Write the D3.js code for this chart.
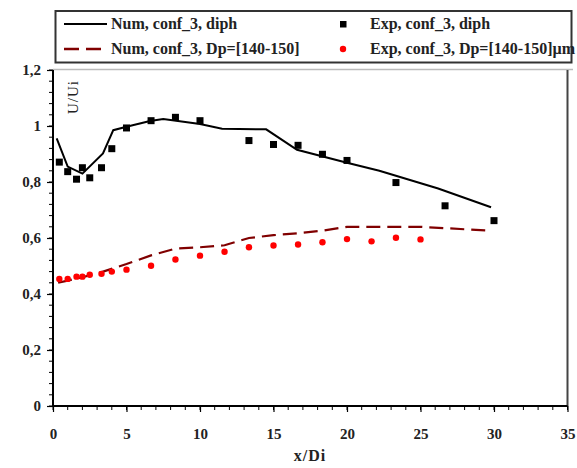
<!DOCTYPE html>
<html>
<head>
<meta charset="utf-8">
<script src="https://cdn.jsdelivr.net/npm/d3@7"></script>
<style>
  body { margin: 0; background: #fff; }
  text { font-family: "Liberation Serif", "DejaVu Serif", serif; }
</style>
</head>
<body>
<div class="chart"></div>
<script>
// Data
var expX = [0.43, 1, 1.6, 2, 2.5, 3.3, 4, 5, 6.67, 8.33, 10, 13.33, 15, 16.67, 18.33, 20, 23.33, 26.67, 30];
var expDiph = [0.871, 0.837, 0.81, 0.851, 0.815, 0.851, 0.919, 0.993, 1.019, 1.031, 1.019, 0.948, 0.934, 0.931, 0.899, 0.877, 0.798, 0.715, 0.662];

var expDpX = [0.43, 1, 1.6, 2, 2.5, 3.3, 4, 5, 6.67, 8.33, 10, 11.67, 13.33, 15, 16.67, 18.33, 20, 21.67, 23.33, 25];
var expDp = [0.454, 0.454, 0.462, 0.462, 0.469, 0.472, 0.48, 0.487, 0.501, 0.523, 0.537, 0.551, 0.567, 0.573, 0.577, 0.585, 0.596, 0.588, 0.601, 0.595];

var numDiphX = [0.25, 1, 2, 3.4, 4.1, 5, 6.6, 7.5, 10, 11.5, 14.5, 16.6, 20, 22.2, 26.2, 29.8];
var numDiph = [0.956, 0.855, 0.83, 0.902, 0.985, 0.997, 1.018, 1.025, 1.007, 0.99, 0.988, 0.915, 0.869, 0.84, 0.777, 0.71];

var numDpX = [0.35, 1, 2, 3.3, 5, 6.67, 8.33, 10, 11.67, 13.33, 15, 16.67, 18.33, 20, 25, 29.8];
var numDp = [0.44, 0.448, 0.46, 0.478, 0.507, 0.538, 0.562, 0.567, 0.574, 0.6, 0.61, 0.617, 0.626, 0.64, 0.64, 0.626];

var xTicks = [0, 5, 10, 15, 20, 25, 30, 35];
var yTicks = [0, 0.2, 0.4, 0.6, 0.8, 1, 1.2];

var legendItems = [
  { label: "Num, conf_3, diph", kind: "line" },
  { label: "Exp, conf_3, diph", kind: "square" },
  { label: "Num, conf_3, Dp=[140-150]", kind: "dash" },
  { label: "Exp, conf_3, Dp=[140-150]\u00b5m", kind: "dot" }
];

var width = 577, height = 468;
var svg = d3.select(".chart").append("svg")
    .attr("width", width)
    .attr("height", height);

// Scales
var x = d3.scaleLinear().domain([0, 35]).range([53, 567.5]);
var y = d3.scaleLinear().domain([0, 1.2]).range([406, 70]);

// frame: top light line, right darker line
svg.append("line")
    .attr("x1", x(0)).attr("x2", 573)
    .attr("y1", y(1.2) - 0.5).attr("y2", y(1.2) - 0.5)
    .attr("stroke", "#bbb").attr("stroke-width", 1.5);
svg.append("line")
    .attr("x1", x(35)).attr("x2", x(35))
    .attr("y1", y(1.2)).attr("y2", y(0))
    .attr("stroke", "#444").attr("stroke-width", 2);

// minor ticks
svg.append("g").selectAll("line")
    .data(d3.range(0, 35.01, 1))
    .enter().append("line")
    .attr("x1", d => x(d)).attr("x2", d => x(d))
    .attr("y1", y(0)).attr("y2", y(0) + 4)
    .attr("stroke", "#000").attr("stroke-width", 1);
svg.append("g").selectAll("line")
    .data(d3.range(0, 1.201, 0.04))
    .enter().append("line")
    .attr("x1", x(0) - 4).attr("x2", x(0))
    .attr("y1", d => y(d)).attr("y2", d => y(d))
    .attr("stroke", "#000").attr("stroke-width", 1);

// Axes
var xAxis = d3.axisBottom(x).tickValues(xTicks).tickSize(6).tickPadding(16)
    .tickFormat(d3.format("d"));
var yAxis = d3.axisLeft(y).tickValues(yTicks).tickSize(6).tickPadding(6)
    .tickFormat(d => String(+d.toFixed(1)).replace(".", ","));

var gx = svg.append("g").attr("transform", "translate(0," + y(0) + ")").call(xAxis);
var gy = svg.append("g").attr("transform", "translate(" + x(0) + ",0)").call(yAxis);

[gx, gy].forEach(function (g) {
  g.select(".domain").attr("stroke", "#000").attr("stroke-width", 2);
  g.selectAll(".tick line").attr("stroke", "#000").attr("stroke-width", 1.2);
  g.selectAll(".tick text")
    .style("font-family", "'Liberation Serif', serif")
    .style("font-weight", "bold")
    .style("font-size", "15px")
    .attr("fill", "#222");
});
gx.select(".domain").attr("d", "M" + x(0) + ",0H" + x(35));
gy.select(".domain").attr("d", "M0," + y(0) + "V" + y(1.2));

// Axis titles
svg.append("text")
    .attr("x", 310).attr("y", 461)
    .attr("text-anchor", "middle")
    .style("font-weight", "bold").style("font-size", "16px")
    .style("letter-spacing", "1px")
    .attr("fill", "#222")
    .text("x/Di");
svg.append("text")
    .attr("transform", "translate(78,97) rotate(-90)")
    .attr("text-anchor", "middle")
    .style("font-size", "15px")
    .style("letter-spacing", "1px")
    .attr("fill", "#222")
    .text("U/Ui");

// Lines
var line = d3.line().x(d => x(d[0])).y(d => y(d[1]));

svg.append("path")
    .datum(d3.zip(numDiphX, numDiph))
    .attr("d", line)
    .attr("fill", "none")
    .attr("stroke", "#000")
    .attr("stroke-width", 2);

svg.append("path")
    .datum(d3.zip(numDpX, numDp))
    .attr("d", line)
    .attr("fill", "none")
    .attr("stroke", "#800000")
    .attr("stroke-width", 2.2)
    .attr("stroke-dasharray", "14,7");

// Markers
svg.append("g").selectAll("rect")
    .data(d3.zip(expX, expDiph))
    .enter().append("rect")
    .attr("x", d => x(d[0]) - 3.5)
    .attr("y", d => y(d[1]) - 3.5)
    .attr("width", 7).attr("height", 7)
    .attr("fill", "#000");

svg.append("g").selectAll("circle")
    .data(d3.zip(expDpX, expDp))
    .enter().append("circle")
    .attr("cx", d => x(d[0]))
    .attr("cy", d => y(d[1]))
    .attr("r", 3.2)
    .attr("fill", "#ff0000");

// Legend
var legend = svg.append("g");
legend.append("rect")
    .attr("x", 55.5).attr("y", 11)
    .attr("width", 516).attr("height", 51.5)
    .attr("fill", "#fff")
    .attr("stroke", "#333")
    .attr("stroke-width", 2);

var legendPos = [[64, 24], [343, 24], [64, 49], [343, 49]];
legendItems.forEach(function (item, i) {
  var px = legendPos[i][0], py = legendPos[i][1];
  var tx;
  if (item.kind === "line" || item.kind === "dash") {
    legend.append("line")
      .attr("x1", px).attr("x2", px + 43)
      .attr("y1", py).attr("y2", py)
      .attr("stroke", item.kind === "line" ? "#000" : "#800000")
      .attr("stroke-width", item.kind === "line" ? 2 : 2.5)
      .attr("stroke-dasharray", item.kind === "dash" ? "15,7" : null);
    tx = px + 47;
  } else if (item.kind === "square") {
    legend.append("rect")
      .attr("x", px - 3).attr("y", py - 3)
      .attr("width", 6.5).attr("height", 6.5)
      .attr("fill", "#000");
    tx = px + 27;
  } else {
    legend.append("circle")
      .attr("cx", px).attr("cy", py)
      .attr("r", 3.2)
      .attr("fill", "#ff0000");
    tx = px + 27;
  }
  legend.append("text")
    .attr("x", tx).attr("y", py + 5)
    .style("font-weight", "bold").style("font-size", "16px")
    .attr("fill", "#222")
    .text(item.label);
});
</script>
</body>
</html>
